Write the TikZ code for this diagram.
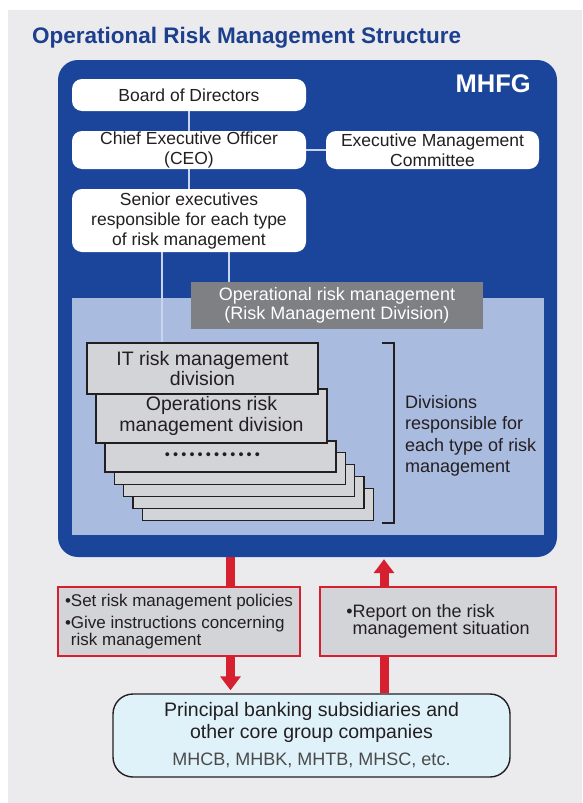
\documentclass[tikz,border=0pt]{standalone}
\usepackage{fontspec}
\setmainfont{Liberation Sans}
\usetikzlibrary{arrows.meta}

\definecolor{bggray}{HTML}{EBEBEE}
\definecolor{mhblue}{HTML}{1B459B}
\definecolor{innerblue}{HTML}{AABBE0}
\definecolor{linkblue}{HTML}{C9D5EF}
\definecolor{titleblue}{HTML}{1C3F8E}
\definecolor{ormgray}{HTML}{7F8084}
\definecolor{boxgray}{HTML}{D3D4D7}
\definecolor{riskred}{HTML}{D7202F}
\definecolor{prinfill}{HTML}{DFF2FA}
\definecolor{darktext}{HTML}{231F20}
\definecolor{subtext}{HTML}{4A4A4A}

\tikzset{
  orgbox/.style={fill=white, rounded corners=10, inner sep=0, align=center,
    text=darktext, font=\fontsize{17.5}{20}\selectfont},
  divbox/.style={draw=darktext, line width=1.3, fill=boxgray, inner sep=0,
    minimum width=231, align=center, text=darktext},
  riskbox/.style={draw=riskred, line width=2, fill=boxgray, inner sep=0,
    minimum height=69, align=left, text=darktext},
  link/.style={draw=linkblue, line width=2},
  redline/.style={draw=riskred, line width=9},
  redarrow/.style={redline, -{Triangle[width=20pt,length=14pt]}},
}

\begin{document}
\begin{tikzpicture}[x=1pt,y=-1pt]
\useasboundingbox (0,0) rectangle (582,803);
\fill[bggray] (8,10) rectangle (582,803);

\node[anchor=base west, inner sep=0, text=titleblue,
  font=\fontsize{22.5}{26}\selectfont\bfseries] (title) at (32,43)
  {Operational Risk Management Structure};

% MHFG frame
\node[fill=mhblue, rounded corners=20, minimum width=499, minimum height=497,
  inner sep=0] (mhfg) at (307.5,308.5) {};
\node[anchor=base east, inner sep=0, text=white,
  font=\fontsize{25.5}{28}\selectfont\bfseries] (mhfglabel) at (531,92) {MHFG};
\fill[innerblue] (72,298) rectangle (544,535);

\node[orgbox, minimum width=234, minimum height=32] (board) at (189,95) {Board of Directors};
\node[orgbox, minimum width=234, minimum height=38] (ceo) at (189,150) {Chief Executive Officer\\(CEO)};
\node[orgbox, minimum width=213, minimum height=38] (emc) at (432.5,150) {Executive Management\\Committee};
\node[orgbox, minimum width=234, minimum height=63] (senior) at (189,220.5)
  {Senior executives\\responsible for each type\\of risk management};

\node[fill=ormgray, text=white, inner sep=0, minimum width=292, minimum height=47,
  align=center, font=\fontsize{18}{19}\selectfont] (orm) at (337,305.5)
  {Operational risk management\\(Risk Management Division)};

% stacked divisions
\foreach \i in {4,3,2,1}
  \node[divbox, minimum height=32] (s\i) at (220.5+9.3*\i,456.5+12*\i) {};
\node[divbox, minimum height=31, font=\fontsize{14.5}{16}\selectfont] (dots) at (220.5,456.5)
  {\foreach \k in {1,...,11}{\textbullet\hspace{3.1pt}}\textbullet\hspace{16pt}};
\node[divbox, minimum height=54, font=\fontsize{19.5}{21}\selectfont] (ops) at (211.5,416)
  {Operations risk\\management division};
\node[divbox, minimum height=51, font=\fontsize{19.5}{20}\selectfont] (it) at (202.5,368.5)
  {IT risk management\\division};

\draw[darktext, line width=2] (382,343) -- (394,343) -- (394,523) -- (382,523);
\node[anchor=west, inner sep=0, align=left, text=darktext,
  font=\fontsize{18}{21.5}\selectfont] (divtext) at (405,436)
  {Divisions\\responsible for\\each type of risk\\management};

\coordinate (itx) at (162,0);
\coordinate (ormx) at (229,0);
\path[link]
  (board) edge (ceo)
  (ceo) edge (senior)
  (ceo) edge (emc)
  (senior.south -| itx) edge (it.north -| itx)
  (senior.south -| ormx) edge (orm.north -| ormx)
;

% instructions and reports
\node[riskbox, minimum width=242, font=\fontsize{17}{16.5}\selectfont] (policy) at (179,621.5)
  {\textbullet Set risk management policies\\[6pt]
   \textbullet Give instructions concerning\\
   \hphantom{\textbullet}risk management};
\node[riskbox, minimum width=236, font=\fontsize{18}{17}\selectfont] (report) at (438,621.5)
  {\textbullet Report on the risk\\
   \hphantom{\textbullet}management situation};

\node[draw=darktext, line width=1.4, fill=prinfill, rounded corners=20, inner sep=0,
  minimum width=397, minimum height=83, align=center, text=darktext,
  font=\fontsize{19.5}{22}\selectfont] (prin) at (311.5,735.5)
  {Principal banking subsidiaries and\\other core group companies\\[5pt]
   {\color{subtext}\fontsize{18}{20}\selectfont MHCB, MHBK, MHTB, MHSC, etc.}};

\coordinate (dn) at (230.5,0);
\coordinate (up) at (384,0);
\draw[redline] (mhfg.south -| dn) -- (policy.north -| dn);
\draw[redarrow] (policy.south -| dn) -- ([yshift=3pt]prin.north -| dn);
\draw[redline] (prin.north -| up) -- (report.south -| up);
\draw[redarrow] (report.north -| up) -- ([yshift=-2pt]mhfg.south -| up);
\end{tikzpicture}
\end{document}
